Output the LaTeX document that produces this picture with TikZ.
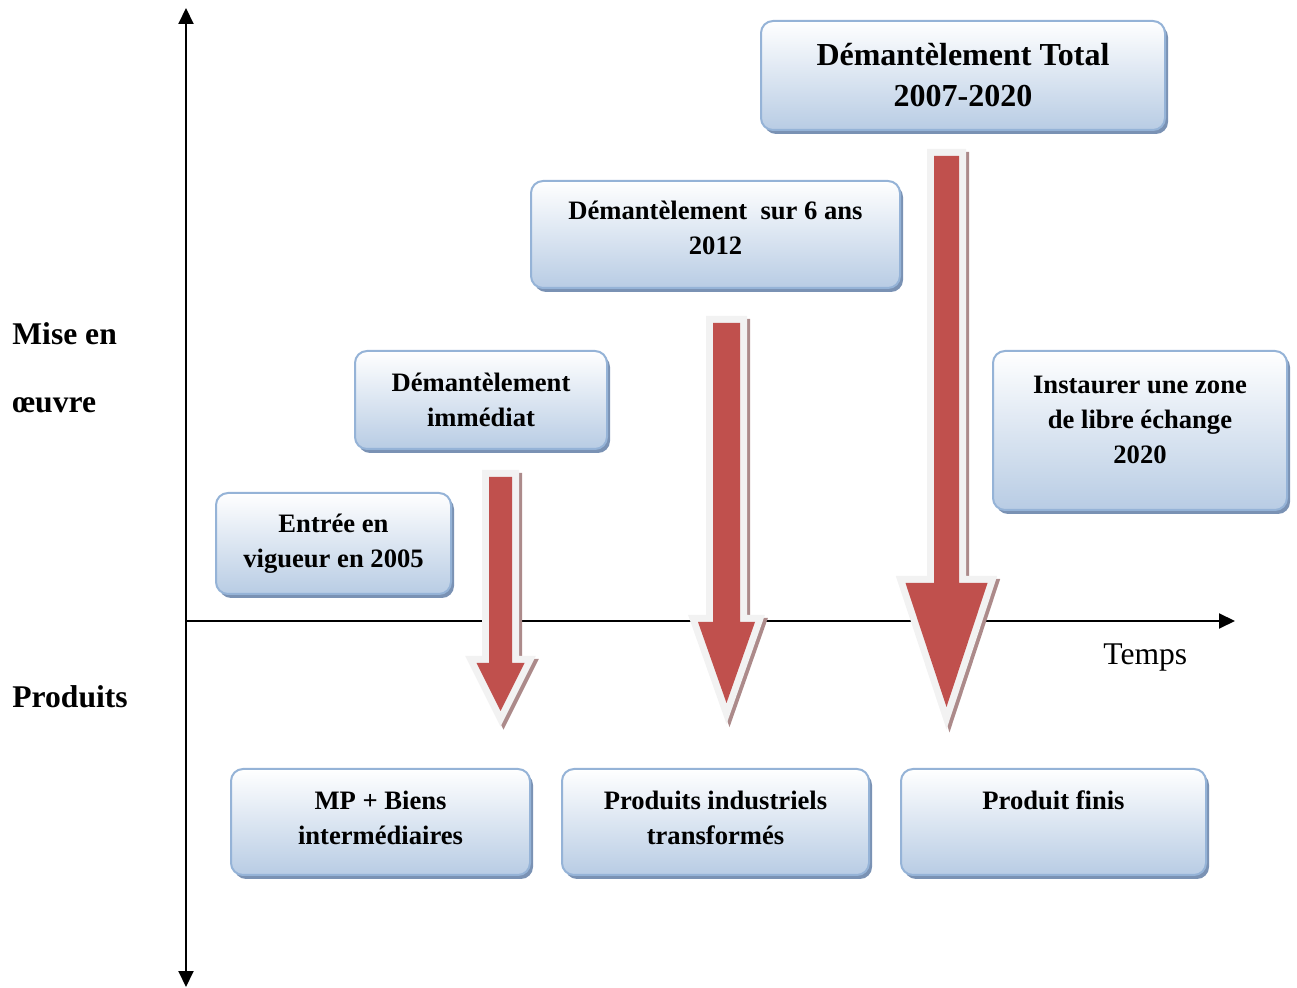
\documentclass[tikz,border=0pt]{standalone}
\usepackage{fontspec}
\setmainfont{Liberation Serif}
\usetikzlibrary{arrows.meta,shadows}

\definecolor{boxline}{RGB}{149,179,215}
\definecolor{boxfill}{RGB}{184,204,228}
\definecolor{boxshadow}{RGB}{122,146,180}
\definecolor{arrowred}{RGB}{192,80,77}
\definecolor{arrowrim}{RGB}{242,242,242}
\definecolor{arrowshade}{RGB}{172,138,138}

% block arrow pointing down: x, top, head start, tip, half shaft, half head
\newcommand{\blocdown}[6]{%
  \begin{scope}[shift={(3,3)}]
    \filldraw[arrowshade, line width=7pt, line join=miter]
      ({#1-#5},#2) -- ({#1+#5},#2) -- ({#1+#5},#3) -- ({#1+#6},#3) -- (#1,#4) -- ({#1-#6},#3) -- ({#1-#5},#3) -- cycle;
  \end{scope}
  \filldraw[arrowrim, line width=7pt, line join=miter]
    ({#1-#5},#2) -- ({#1+#5},#2) -- ({#1+#5},#3) -- ({#1+#6},#3) -- (#1,#4) -- ({#1-#6},#3) -- ({#1-#5},#3) -- cycle;
  \fill[arrowred]
    ({#1-#5},#2) -- ({#1+#5},#2) -- ({#1+#5},#3) -- ({#1+#6},#3) -- (#1,#4) -- ({#1-#6},#3) -- ({#1-#5},#3) -- cycle;
}

\begin{document}
\begin{tikzpicture}[
        x=0.5pt, y=-0.5pt,
        box/.style={draw=boxline, line width=1pt, rounded corners=6pt, top color=white, bottom color=boxfill,
            drop shadow={shadow xshift=1.5pt, shadow yshift=-2pt, fill=boxshadow, opacity=1},
            align=center, inner sep=0pt, font=\fontsize{13.3}{17.5}\selectfont\bfseries},
        side/.style={anchor=base west, inner sep=0pt, font=\fontsize{15.8}{19}\selectfont\bfseries},
        axis/.style={line width=1pt, >={Triangle[length=8pt,width=7.5pt]}}
    ]
        \useasboundingbox (0,0) rectangle (1297,988);

        % Axes
        \coordinate (origin) at (186,621);
        \coordinate (ytop) at (186,8);
        \coordinate (ybot) at (186,987);
        \coordinate (xend) at (1235,621);
        \draw[axis, <->] (ybot) -- (ytop);
        \draw[axis, ->] (origin) -- (xend);

        % Axis labels
        \node[side] (mise) at (12,345) {Mise en};
        \node[side] (oeuvre) at (12,413) {œuvre};
        \node[side] (produits) at (12,708) {Produits};
        \node[side, font=\fontsize{15.8}{19}\selectfont] (temps) at (1103,665) {Temps};

        % Upper boxes
        \node[box, minimum width=202pt, minimum height=54.5pt, font=\fontsize{16}{20.5}\selectfont\bfseries] (total) at (963,75.5) {Démantèlement Total\\2007-2020};
        \node[box, minimum width=184.5pt, minimum height=53.5pt, text depth=7pt] (sixans) at (715.5,234.5) {Démantèlement~ sur 6 ans\\2012};
        \node[box, minimum width=126pt, minimum height=49pt] (immediat) at (481,400) {Démantèlement\\immédiat};
        \node[box, minimum width=117.5pt, minimum height=50.5pt] (entree) at (333.5,543.5) {Entrée en\\vigueur en 2005};
        \node[box, minimum width=147pt, minimum height=79.5pt, text depth=11pt] (zone) at (1140,430.5) {Instaurer une zone\\de libre échange\\2020};

        % Lower boxes
        \node[box, minimum width=149.5pt, minimum height=53pt, text depth=4pt] (mpbiens) at (380.5,822) {MP + Biens\\intermédiaires};
        \node[box, minimum width=153.5pt, minimum height=53pt, text depth=4pt] (industriels) at (715.5,822) {Produits industriels\\transformés};
        \node[box, minimum width=152.5pt, minimum height=53pt, text depth=4pt] (finis) at (1053.5,822) {Produit finis\\\mbox{}};

        % Red arrows
        \blocdown{500.5}{477}{663}{711}{11.5}{24}
        \blocdown{726.5}{323}{622}{703}{13.5}{28.5}
        \blocdown{946.5}{156}{583}{707}{12.5}{41}
    \end{tikzpicture}
\end{document}
